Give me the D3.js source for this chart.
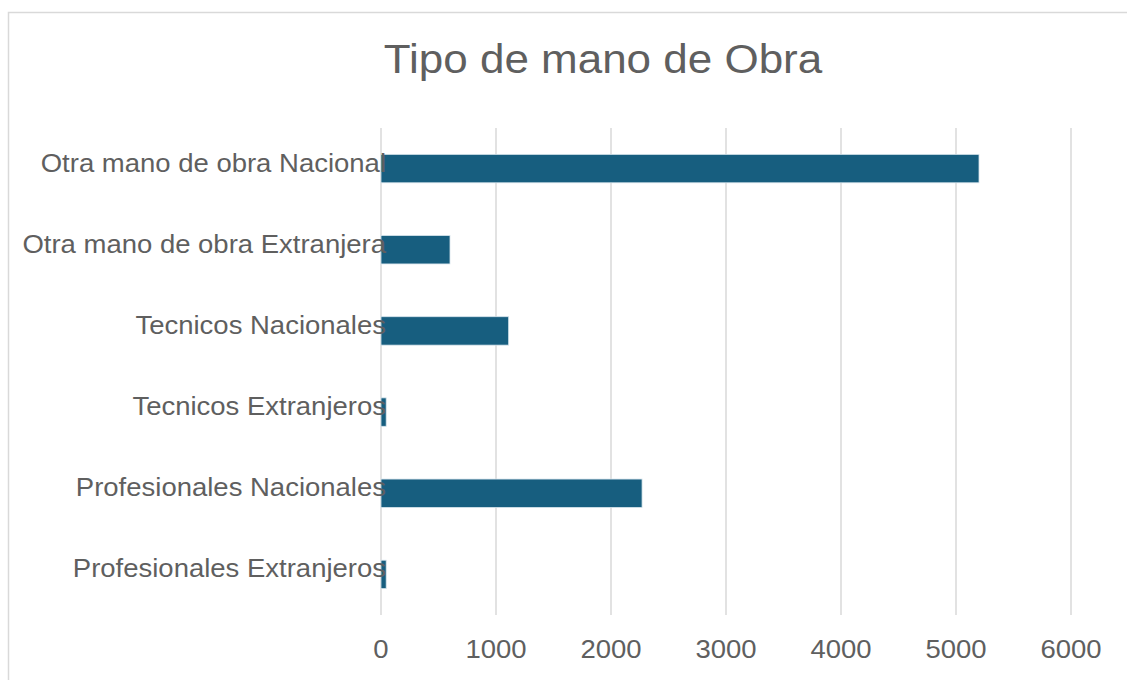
<!DOCTYPE html>
<html>
<head>
<meta charset="utf-8">
<script src="https://cdn.jsdelivr.net/npm/d3@7"></script>
<style>
  body { margin: 0; background: #fff; }
  svg { display: block; }
</style>
</head>
<body>
<svg id="chart"></svg>
<script>
// Chart data
const categories = [
  "Otra mano de obra Nacional",
  "Otra mano de obra Extranjera",
  "Tecnicos Nacionales",
  "Tecnicos Extranjeros",
  "Profesionales Nacionales",
  "Profesionales Extranjeros"
];
const values = [5200, 600, 1110, 45, 2270, 45];
const tickValues = [0, 1000, 2000, 3000, 4000, 5000, 6000];
const title = "Tipo de mano de Obra";

const width = 1127;
const height = 680;
const stretch = 1.1; // text in the picture is a bit wide

const svg = d3.select("#chart")
  .attr("width", width)
  .attr("height", height);

// Chart frame
svg.append("rect")
  .attr("x", 8.5)
  .attr("y", 12.5)
  .attr("width", width)
  .attr("height", height)
  .attr("fill", "#fff")
  .attr("stroke", "#d9d9d9")
  .attr("stroke-width", 1.5);

const x = d3.scaleLinear()
  .domain([0, 6000])
  .range([381, 1071]);

const y = d3.scaleBand()
  .domain(categories)
  .range([128, 615])
  .paddingInner(0.65)
  .paddingOuter(0.325);

// Gridlines
svg.selectAll("line.grid")
  .data(tickValues)
  .enter()
  .append("line")
  .attr("class", "grid")
  .attr("x1", d => x(d))
  .attr("x2", d => x(d))
  .attr("y1", 128)
  .attr("y2", 615)
  .attr("stroke", "#d9d9d9")
  .attr("stroke-width", 1.5);

// Bars
svg.selectAll("rect.bar")
  .data(values)
  .enter()
  .append("rect")
  .attr("class", "bar")
  .attr("x", x(0))
  .attr("y", (d, i) => y(categories[i]))
  .attr("width", d => x(d) - x(0))
  .attr("height", y.bandwidth())
  .attr("fill", "#175e7f")
  .attr("stroke", "#d6e4ec")
  .attr("stroke-width", 0.8);

// Category labels
svg.selectAll("text.label")
  .data(categories)
  .enter()
  .append("text")
  .attr("class", "label")
  .attr("transform", d => `translate(${x(0) + 5},${y(d) + y.bandwidth() / 2 + 3}) scale(${stretch},1)`)
  .attr("text-anchor", "end")
  .attr("fill", "#5f5f5f")
  .style("font-family", "'Liberation Sans', Arial, sans-serif")
  .style("font-size", "25px")
  .text(d => d);

// Tick labels
svg.selectAll("text.tick")
  .data(tickValues)
  .enter()
  .append("text")
  .attr("class", "tick")
  .attr("transform", d => `translate(${x(d)},658) scale(${stretch},1)`)
  .attr("text-anchor", "middle")
  .attr("fill", "#5f5f5f")
  .style("font-family", "'Liberation Sans', Arial, sans-serif")
  .style("font-size", "25px")
  .text(d => d);

// Title
svg.append("text")
  .attr("transform", `translate(603,73) scale(${stretch},1)`)
  .attr("text-anchor", "middle")
  .attr("fill", "#5f5f5f")
  .style("font-family", "'Liberation Sans', Arial, sans-serif")
  .style("font-size", "40px")
  .text(title);
</script>
</body>
</html>
